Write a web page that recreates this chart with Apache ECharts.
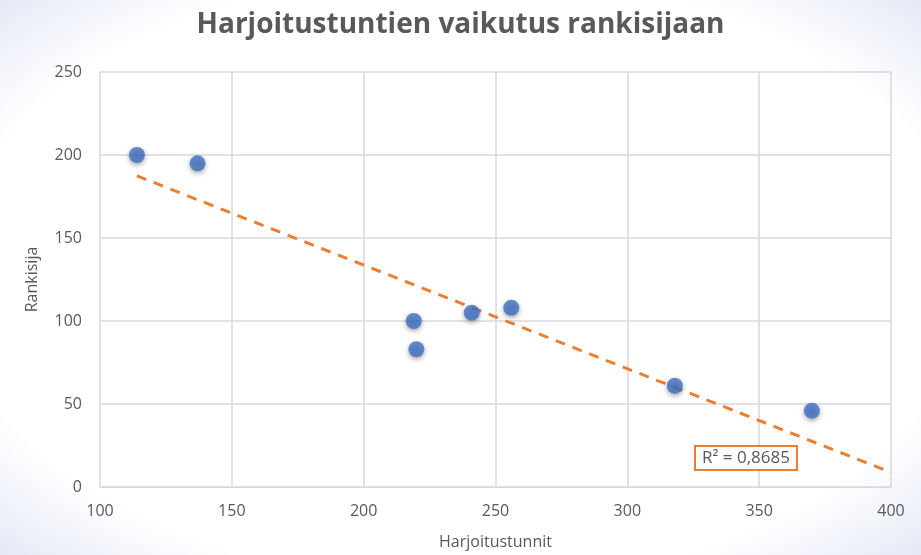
<!DOCTYPE html>
<html>
<head>
<meta charset="utf-8">
<script src="https://cdn.jsdelivr.net/npm/echarts@6/dist/echarts.min.js"></script>
<style>
  html, body { margin: 0; padding: 0; }
  body {
    width: 921px; height: 555px;
    background: radial-gradient(ellipse at center, #ffffff 78%, #e4e9f6 100%);
  }
  #main { width: 921px; height: 555px; }
</style>
</head>
<body>
<div id="main"></div>
<script>
// harjoitustunnit (x) ja rankisija (y)
var hours = [114, 137, 219, 220, 241, 256, 318, 370];
var ranks = [200, 195, 100, 83, 105, 108, 61, 46];
var xTicks = [100, 150, 200, 250, 300, 350, 400];
var yTicks = [0, 50, 100, 150, 200, 250];
var r2Text = 'R² = 0,8685';

var points = hours.map(function (h, i) { return [h, ranks[i]]; });

// lineaarinen trendiviiva pienimmän neliösumman mukaan
function linearFit(xs, ys) {
    var n = xs.length, mx = 0, my = 0;
    for (var i = 0; i < n; i++) { mx += xs[i]; my += ys[i]; }
    mx /= n; my /= n;
    var sxy = 0, sxx = 0;
    for (var j = 0; j < n; j++) {
        sxy += (xs[j] - mx) * (ys[j] - my);
        sxx += (xs[j] - mx) * (xs[j] - mx);
    }
    var k = sxy / sxx;
    return { k: k, b: my - k * mx };
}
var fit = linearFit(hours, ranks);
var trendStart = Math.min.apply(null, hours);
var trendEnd = xTicks[xTicks.length - 1];
var trend = [
    [trendStart, fit.k * trendStart + fit.b],
    [trendEnd, fit.k * trendEnd + fit.b]
];

var chart = echarts.init(document.getElementById('main'), null, { renderer: 'canvas' });
var textColor = '#595959';
var gridColor = '#d9d9d9';
var font = 'Open Sans';

var option = {
    backgroundColor: 'transparent',
    title: {
        text: 'Harjoitustuntien vaikutus rankisijaan',
        left: 'center',
        top: 6,
        textStyle: { color: textColor, fontSize: 28, fontWeight: 'bold', fontFamily: font }
    },
    grid: { left: 100, right: 30, top: 72, bottom: 67 },
    xAxis: {
        type: 'value',
        min: xTicks[0],
        max: xTicks[xTicks.length - 1],
        interval: 50,
        name: 'Harjoitustunnit',
        nameLocation: 'middle',
        nameGap: 47,
        nameTextStyle: { color: textColor, fontSize: 16, fontFamily: font },
        axisLine: { show: true, lineStyle: { color: gridColor } },
        axisTick: { show: false },
        axisLabel: { color: textColor, fontSize: 16, fontFamily: font, margin: 16 },
        splitLine: { show: true, lineStyle: { color: gridColor, width: 1.5 } }
    },
    yAxis: {
        type: 'value',
        min: yTicks[0],
        max: yTicks[yTicks.length - 1],
        interval: 50,
        name: 'Rankisija',
        nameLocation: 'middle',
        nameGap: 60,
        nameTextStyle: { color: textColor, fontSize: 16, fontFamily: font },
        axisLine: { show: false },
        axisTick: { show: false },
        axisLabel: { color: textColor, fontSize: 16, fontFamily: font, margin: 18 },
        splitLine: { show: true, lineStyle: { color: gridColor, width: 1.5 } }
    },
    series: [
        {
            type: 'line',
            data: trend,
            symbol: 'none',
            silent: true,
            lineStyle: { color: '#ED7D31', width: 3, type: [10, 8] },
            z: 3
        },
        {
            type: 'scatter',
            data: points,
            symbolSize: 16,
            itemStyle: {
                color: '#4170C6',
                shadowBlur: 5,
                shadowColor: 'rgba(0,0,0,0.45)',
                shadowOffsetY: 2
            },
            z: 4
        }
    ],
    graphic: [{
        type: 'text',
        left: 694,
        top: 445,
        style: {
            text: r2Text,
            fill: textColor,
            font: '17px "Open Sans"',
            backgroundColor: '#fff',
            borderColor: '#ED7D31',
            borderWidth: 2,
            padding: [3, 6, 2, 6]
        },
        z: 10
    }]
};
chart.setOption(option);
</script>
</body>
</html>
